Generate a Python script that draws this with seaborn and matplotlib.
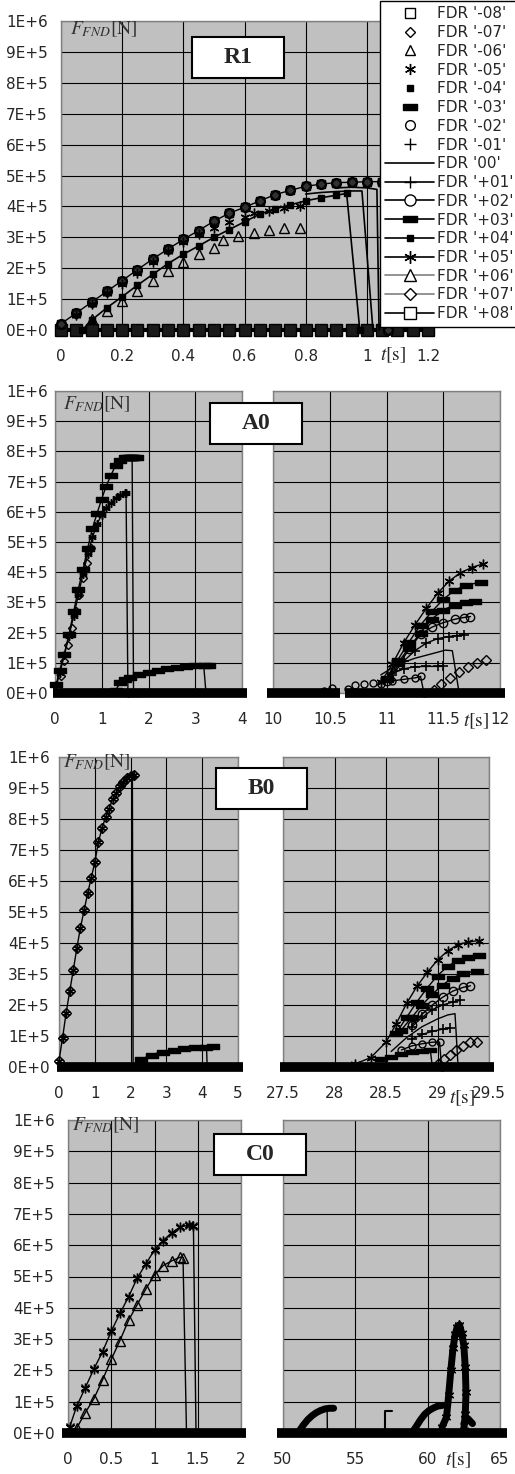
import matplotlib
matplotlib.use("Agg")
import matplotlib.pyplot as plt
import seaborn as sns
from matplotlib.lines import Line2D
from matplotlib.patches import Rectangle
from matplotlib.path import Path

# ---------------- data ----------------
f_ticks = [0, 1e5, 2e5, 3e5, 4e5, 5e5, 6e5, 7e5, 8e5, 9e5, 1e6]
f_labels = ['0E+0', '1E+5', '2E+5', '3E+5', '4E+5', '5E+5', '6E+5', '7E+5', '8E+5', '9E+5', '1E+6']

# R1
r1_ticks = [0, 0.2, 0.4, 0.6, 0.8, 1.0, 1.2]
r1_ticklabels = ['0', '0.2', '0.4', '0.6', '0.8', '1', '1.2']
r1_base_t = [0.0, 0.05, 0.1, 0.15, 0.2, 0.25, 0.3, 0.35, 0.4, 0.45, 0.5, 0.55, 0.6,
             0.65, 0.7, 0.75, 0.8, 0.85, 0.9, 0.95, 1.0, 1.05, 1.1, 1.15, 1.2]
r1_base_f = [0, 0, 0, 0, 0, 0, 0, 0, 0, 0, 0, 0, 0, 0, 0, 0, 0, 0, 0, 0, 0, 0, 0, 0, 0]
r1_up_t = [0.0, 0.05, 0.1, 0.15, 0.2, 0.25, 0.3, 0.35, 0.4, 0.45, 0.5, 0.55, 0.6, 0.65,
           0.7, 0.75, 0.8, 0.85, 0.9, 0.95, 1.0, 1.05, 1.07]
r1_up_f = [0.2e5, 0.55e5, 0.9e5, 1.25e5, 1.6e5, 1.95e5, 2.3e5, 2.62e5, 2.93e5, 3.22e5, 3.52e5,
           3.78e5, 3.97e5, 4.18e5, 4.38e5, 4.52e5, 4.65e5, 4.72e5, 4.77e5, 4.78e5, 4.8e5, 4.8e5, 0]
r1_lo_t = [0.07, 0.1, 0.15, 0.2, 0.25, 0.3, 0.35, 0.4, 0.45, 0.5, 0.55, 0.6, 0.65, 0.7,
           0.75, 0.8, 0.85, 0.9, 0.934, 0.977]
r1_lo_f = [0, 0.32e5, 0.72e5, 1.08e5, 1.45e5, 1.8e5, 2.15e5, 2.45e5, 2.72e5, 3.0e5, 3.25e5,
           3.5e5, 3.75e5, 3.92e5, 4.05e5, 4.18e5, 4.28e5, 4.36e5, 4.42e5, 0]
r1_mid_t = [0.8, 0.85, 0.9, 0.95, 0.984, 1.02]
r1_mid_f = [4.4e5, 4.45e5, 4.48e5, 4.5e5, 4.5e5, 0]
r1_end_t = [0.9, 0.95, 1.0, 1.033, 1.04]
r1_end_f = [4.6e5, 4.62e5, 4.6e5, 4.55e5, 0]
r1_tri_t = [0.1, 0.15, 0.2, 0.25, 0.3, 0.35, 0.4, 0.45, 0.5, 0.53, 0.58, 0.63, 0.68, 0.73, 0.78]
r1_tri_f = [0.35e5, 0.62e5, 0.95e5, 1.25e5, 1.6e5, 1.92e5, 2.2e5, 2.45e5, 2.65e5, 2.9e5,
            3.05e5, 3.15e5, 3.25e5, 3.3e5, 3.3e5]
r1_star_t = [0.05, 0.1, 0.15, 0.2, 0.25, 0.3, 0.35, 0.4, 0.45, 0.5, 0.55, 0.6, 0.63, 0.68, 0.73, 0.78]
r1_star_f = [0.5e5, 0.85e5, 1.2e5, 1.5e5, 1.85e5, 2.2e5, 2.55e5, 2.86e5, 3.1e5, 3.3e5, 3.5e5,
             3.65e5, 3.78e5, 3.85e5, 3.94e5, 4.0e5]

# A0
a0_lticks = [0, 1, 2, 3, 4]
a0_lticklabels = ['0', '1', '2', '3', '4']
a0_rticks = [10, 10.5, 11, 11.5, 12]
a0_rticklabels = ['10', '10.5', '11', '11.5', '12']
a0_base_t = [-0.05, 4.1]
a0_base_f = [0, 0]
a0r_base1_t = [9.95, 10.59]
a0r_base1_f = [0, 0]
a0r_base2_t = [10.63, 12.04]
a0r_base2_f = [0, 0]
a0_hi_t = [0.03, 0.1, 0.2, 0.3, 0.4, 0.5, 0.6, 0.7, 0.8, 0.9, 1.0, 1.1, 1.2, 1.3, 1.4,
           1.5, 1.6, 1.65, 1.68]
a0_hi_f = [0.3e5, 0.75e5, 1.3e5, 1.95e5, 2.7e5, 3.45e5, 4.1e5, 4.8e5, 5.45e5, 5.95e5, 6.43e5,
           6.87e5, 7.22e5, 7.55e5, 7.72e5, 7.8e5, 7.82e5, 7.8e5, 0]
a0_tail_t = [1.55, 1.6, 1.65, 1.7, 1.75]
a0_tail_f = [7.8e5, 7.82e5, 7.8e5, 7.8e5, 7.8e5]
a0_lo_t = [0.03, 0.1, 0.2, 0.3, 0.4, 0.5, 0.6, 0.7, 0.8, 0.9, 1.0, 1.1, 1.2, 1.3, 1.4,
           1.5, 1.52, 1.56]
a0_lo_f = [0.25e5, 0.65e5, 1.25e5, 1.9e5, 2.55e5, 3.25e5, 3.95e5, 4.6e5, 5.15e5, 5.6e5, 5.9e5,
           6.12e5, 6.3e5, 6.45e5, 6.55e5, 6.62e5, 6.62e5, 0]
a0_dia_t = [0.05, 0.12, 0.2, 0.28, 0.36, 0.44, 0.52, 0.6, 0.68, 0.76]
a0_dia_f = [0.15e5, 0.55e5, 1.05e5, 1.6e5, 2.15e5, 2.7e5, 3.25e5, 3.8e5, 4.3e5, 4.8e5]
a0_bump_t = [1.3, 1.4, 1.5, 1.6, 1.8, 2.0, 2.2, 2.4, 2.6, 2.8, 3.0, 3.2, 3.3]
a0_bump_f = [0.1e5, 0.35e5, 0.45e5, 0.53e5, 0.63e5, 0.71e5, 0.77e5, 0.82e5, 0.87e5, 0.9e5,
             0.92e5, 0.93e5, 0.93e5]
a0_bdrop_t = [3.18, 3.23]
a0_bdrop_f = [0.92e5, 0]
a0r_star_t = [10.95, 11.05, 11.15, 11.25, 11.35, 11.45, 11.55, 11.65, 11.75, 11.85]
a0r_star_f = [0.35e5, 0.95e5, 1.65e5, 2.25e5, 2.8e5, 3.3e5, 3.7e5, 3.98e5, 4.15e5, 4.28e5]
a0r_sq1_t = [11.0, 11.1, 11.2, 11.3, 11.4, 11.5, 11.6, 11.7, 11.83]
a0r_sq1_f = [0.5e5, 1.1e5, 1.7e5, 2.25e5, 2.7e5, 3.1e5, 3.4e5, 3.57e5, 3.67e5]
a0r_sq2_t = [11.0, 11.1, 11.2, 11.3, 11.4, 11.5, 11.6, 11.7, 11.78]
a0r_sq2_f = [0.45e5, 1.0e5, 1.5e5, 2.0e5, 2.45e5, 2.75e5, 2.92e5, 3.02e5, 3.05e5]
a0r_ci1_t = [11.0, 11.1, 11.2, 11.3, 11.4, 11.5, 11.6, 11.68, 11.74]
a0r_ci1_f = [0.4e5, 0.9e5, 1.45e5, 1.95e5, 2.18e5, 2.33e5, 2.44e5, 2.5e5, 2.53e5]
a0r_pl1_t = [11.05, 11.15, 11.25, 11.35, 11.45, 11.55, 11.62, 11.68]
a0r_pl1_f = [0.6e5, 1.05e5, 1.4e5, 1.65e5, 1.8e5, 1.87e5, 1.9e5, 1.92e5]
a0r_line_t = [10.95, 11.1, 11.25, 11.4, 11.52, 11.58, 11.64]
a0r_line_f = [0.6e5, 0.95e5, 1.15e5, 1.3e5, 1.42e5, 1.4e5, 0]
a0r_pl2_t = [11.05, 11.15, 11.25, 11.35, 11.45, 11.5]
a0r_pl2_f = [0.65e5, 0.8e5, 0.87e5, 0.88e5, 0.88e5, 0.88e5]
a0r_ci2_t = [10.95, 11.05, 11.15, 11.25, 11.3, 11.33]
a0r_ci2_f = [0.3e5, 0.4e5, 0.45e5, 0.5e5, 0.55e5, 0]
a0r_dia_t = [11.42, 11.48, 11.56, 11.64, 11.72, 11.8, 11.88]
a0r_dia_f = [0.1e5, 0.3e5, 0.5e5, 0.68e5, 0.85e5, 0.98e5, 1.1e5]
a0r_ci3_t = [10.45, 10.52, 10.66, 10.72, 10.8, 10.88]
a0r_ci3_f = [0.05e5, 0.15e5, 0.12e5, 0.25e5, 0.3e5, 0.32e5]

# B0
b0_lticks = [0, 1, 2, 3, 4, 5]
b0_lticklabels = ['0', '1', '2', '3', '4', '5']
b0_rticks = [27.5, 28, 28.5, 29, 29.5]
b0_rticklabels = ['27.5', '28', '28.5', '29', '29.5']
b0_base_t = [-0.05, 5.15]
b0_base_f = [0, 0]
b0r_base_t = [27.47, 29.55]
b0r_base_f = [0, 0]
b0_main_t = [0.0, 0.1, 0.2, 0.3, 0.4, 0.5, 0.6, 0.7, 0.8, 0.9, 1.0, 1.1, 1.2, 1.3, 1.4,
             1.5, 1.6, 1.7, 1.8, 1.9, 2.0, 2.1]
b0_main_f = [0.2e5, 0.95e5, 1.75e5, 2.45e5, 3.13e5, 3.85e5, 4.5e5, 5.05e5, 5.6e5, 6.1e5, 6.6e5,
             7.25e5, 7.7e5, 8.05e5, 8.33e5, 8.65e5, 8.85e5, 9.05e5, 9.2e5, 9.33e5, 9.4e5, 9.42e5]
b0_drop_t = [2.05, 2.07]
b0_drop_f = [9.35e5, 0]
b0_bump_t = [2.3, 2.6, 2.9, 3.2, 3.5, 3.8, 4.1, 4.3]
b0_bump_f = [0.25e5, 0.4e5, 0.5e5, 0.55e5, 0.6e5, 0.63e5, 0.66e5, 0.68e5]
b0_bdrop_t = [4.12, 4.14]
b0_bdrop_f = [0.65e5, 0]
b0r_star_t = [28.2, 28.35, 28.5, 28.6, 28.7, 28.8, 28.9, 29.0, 29.1, 29.2, 29.3, 29.4]
b0r_star_f = [0.1e5, 0.3e5, 0.8e5, 1.4e5, 2.05e5, 2.6e5, 3.05e5, 3.45e5, 3.75e5, 3.95e5, 4.03e5, 4.08e5]
b0r_sq1_t = [28.6, 28.7, 28.8, 28.9, 29.0, 29.1, 29.2, 29.3, 29.4]
b0r_sq1_f = [1.1e5, 1.6e5, 2.1e5, 2.55e5, 2.95e5, 3.25e5, 3.45e5, 3.55e5, 3.6e5]
b0r_sq2_t = [28.65, 28.75, 28.85, 28.95, 29.05, 29.15, 29.25, 29.38]
b0r_sq2_f = [1.2e5, 1.6e5, 2.0e5, 2.35e5, 2.65e5, 2.88e5, 3.02e5, 3.1e5]
b0r_ci1_t = [28.75, 28.85, 28.95, 29.05, 29.15, 29.25, 29.32]
b0r_ci1_f = [1.35e5, 1.7e5, 2.0e5, 2.25e5, 2.45e5, 2.57e5, 2.62e5]
b0r_pl1_t = [28.75, 28.85, 28.95, 29.05, 29.15, 29.22]
b0r_pl1_f = [1.3e5, 1.6e5, 1.85e5, 2.0e5, 2.1e5, 2.15e5]
b0r_line_t = [28.55, 28.7, 28.85, 29.0, 29.1, 29.17, 29.2]
b0r_line_f = [0.5e5, 0.95e5, 1.3e5, 1.55e5, 1.68e5, 1.72e5, 0]
b0r_pl2_t = [28.75, 28.85, 28.95, 29.05, 29.12]
b0r_pl2_f = [0.9e5, 1.05e5, 1.15e5, 1.22e5, 1.25e5]
b0r_ci2_t = [28.65, 28.75, 28.85, 28.95, 29.02, 29.04]
b0r_ci2_f = [0.55e5, 0.68e5, 0.75e5, 0.8e5, 0.8e5, 0]
b0r_sq3_t = [28.45, 28.55, 28.65, 28.75, 28.85, 28.93, 28.95]
b0r_sq3_f = [0.25e5, 0.33e5, 0.42e5, 0.48e5, 0.52e5, 0.55e5, 0]
b0r_dia_t = [29.0, 29.06, 29.12, 29.18, 29.25, 29.32, 29.38]
b0r_dia_f = [0.1e5, 0.25e5, 0.4e5, 0.55e5, 0.68e5, 0.8e5, 0.82e5]

# C0
c0_lticks = [0, 0.5, 1.0, 1.5, 2.0]
c0_lticklabels = ['0', '0.5', '1', '1.5', '2']
c0_rticks = [50, 55, 60, 65]
c0_rticklabels = ['50', '55', '60', '65']
c0_base_t = [-0.07, 2.06]
c0_base_f = [0, 0]
c0r_base_t = [49.6, 65.5]
c0r_base_f = [0, 0]
c0_hi_t = [0.02, 0.1, 0.2, 0.3, 0.4, 0.5, 0.6, 0.7, 0.8, 0.9, 1.0, 1.1, 1.2, 1.3, 1.4, 1.45]
c0_hi_f = [0.2e5, 0.85e5, 1.45e5, 2.05e5, 2.6e5, 3.25e5, 3.82e5, 4.35e5, 4.95e5, 5.4e5, 5.85e5,
           6.15e5, 6.4e5, 6.58e5, 6.65e5, 6.6e5]
c0_hdrop_t = [1.45, 1.48]
c0_hdrop_f = [6.6e5, 0]
c0_tri_t = [0.1, 0.2, 0.3, 0.4, 0.5, 0.6, 0.7, 0.8, 0.9, 1.0, 1.1, 1.2, 1.3, 1.33]
c0_tri_f = [0.15e5, 0.65e5, 1.1e5, 1.7e5, 2.35e5, 2.95e5, 3.6e5, 4.1e5, 4.6e5, 5.05e5, 5.35e5,
            5.5e5, 5.62e5, 5.6e5]
c0_tdrop_t = [1.33, 1.37]
c0_tdrop_f = [5.55e5, 0]
c0r_b1_t = [51.1, 51.4, 51.7, 52.0, 52.3, 52.6, 52.9, 53.2, 53.5]
c0r_b1_f = [0.05e5, 0.25e5, 0.42e5, 0.55e5, 0.65e5, 0.72e5, 0.77e5, 0.79e5, 0.79e5]
c0r_d1_t = [53.05, 53.07]
c0r_d1_f = [0.78e5, 0]
c0r_b2_t = [57.05, 57.05, 57.5]
c0r_b2_f = [0, 0.7e5, 0.7e5]
c0r_b3_t = [58.9, 59.2, 59.5, 59.8, 60.1, 60.4, 60.7, 61.0]
c0r_b3_f = [0, 0.2e5, 0.42e5, 0.6e5, 0.72e5, 0.8e5, 0.86e5, 0.88e5]
c0r_up_t = [61.0, 61.3, 61.45, 61.6, 61.75, 61.9, 62.05, 62.2]
c0r_up_f = [0.2e5, 0.5e5, 1.2e5, 2.0e5, 2.7e5, 3.15e5, 3.4e5, 3.45e5]
c0r_dn_t = [62.2, 62.35, 62.5, 62.6, 62.65, 62.6, 62.5]
c0r_dn_f = [3.45e5, 3.2e5, 2.8e5, 2.1e5, 1.3e5, 0.6e5, 0.1e5]
c0r_b4_t = [62.5, 62.8, 63.1]
c0r_b4_f = [0.3e5, 0.45e5, 0.3e5]

# ---------------- style ----------------
sns.set_style("white")
plt.rcParams['font.family'] = ['DejaVu Sans']
plt.rcParams['mathtext.fontset'] = 'stix'

W, H = 515, 1474
fig = plt.figure(figsize=(W / 100, H / 100), dpi=100)
GRAY = '#C0C0C0'
LGRAY = '#808080'
bar = Path([(-1, -0.4), (1, -0.4), (1, 0.4), (-1, 0.4), (-1, -0.4)],
           [Path.MOVETO, Path.LINETO, Path.LINETO, Path.LINETO, Path.CLOSEPOLY])
star6 = (6, 2, 0)


def px_axes(l, t, r, b):
    return fig.add_axes([l / W, 1 - b / H, (r - l) / W, (b - t) / H])


def draw(ax, t, f, marker=None, ms=5, ls='-', lw=1.0, color='k', mfc='none', mew=1.0):
    sns.lineplot(x=t, y=f, ax=ax, sort=False, estimator=None, color=color,
                 marker=marker, markersize=ms, markerfacecolor=mfc, markeredgecolor='k',
                 markeredgewidth=mew, linestyle=ls, linewidth=lw, clip_on=False, legend=False,
                 zorder=4)


def band(ax, t, f, lw=7):
    sns.lineplot(x=t, y=f, ax=ax, sort=False, estimator=None, color='k', linewidth=lw,
                 solid_capstyle='butt', clip_on=False, legend=False, zorder=5)


def setup(ax, xlim, ticks, labels, left=True, ypad=6):
    ax.set_facecolor(GRAY)
    ax.set_xlim(xlim)
    ax.set_ylim(0, 1e6)
    ax.set_xticks(ticks)
    ax.set_xticklabels(labels)
    ax.set_yticks(f_ticks)
    ax.set_yticklabels(f_labels if left else [])
    ax.grid(True, color='k', lw=0.8)
    ax.set_axisbelow(True)
    for s in ax.spines.values():
        s.set_color(LGRAY)
        s.set_linewidth(1)
        s.set_zorder(1)
    ax.tick_params(axis='x', length=3, color=LGRAY, labelsize=11, pad=11)
    ax.tick_params(axis='y', length=3 if left else 0, color=LGRAY, labelsize=11, pad=ypad)
    ax.set_xlabel('')
    ax.set_ylabel('')


def panel_box(x0, y0, x1, y1, label):
    fig.add_artist(Rectangle((x0 / W, 1 - y1 / H), (x1 - x0) / W, (y1 - y0) / H,
                             transform=fig.transFigure, fc='white', ec='k', lw=1.5, zorder=6))
    fig.text((x0 + x1) / 2 / W, 1 - (y0 + y1) / 2 / H, label, ha='center', va='center',
             family='Liberation Serif', fontweight='bold', fontsize=17, zorder=7)


def flabel(x, y):
    fig.text(x / W, 1 - y / H, r'$F_{FND}\mathrm{[N]}$', ha='left', va='center',
             fontsize=14, color='#303030', zorder=7)


def tlabel(x, y):
    fig.text(x / W, 1 - y / H, r'$t\mathrm{[s]}$', ha='center', va='center', fontsize=14, zorder=7)


# ---------------- R1 ----------------
ax = px_axes(61, 21, 428, 330)
draw(ax, r1_base_t, r1_base_f, marker='s', ms=8, lw=3, mfc='#1a1a1a')
draw(ax, r1_up_t, r1_up_f, marker='o', ms=7)
draw(ax, r1_up_t, r1_up_f, marker='s', ms=6, mfc='#303030', ls='none')
draw(ax, r1_up_t, r1_up_f, marker='D', ms=5, ls='none')
draw(ax, r1_lo_t, r1_lo_f, marker='s', ms=4.5, mfc='k', lw=1.2)
draw(ax, r1_mid_t, r1_mid_f, lw=1.2)
draw(ax, r1_end_t, r1_end_f, lw=1.2)
draw(ax, r1_tri_t, r1_tri_f, marker='^', ms=7, ls='none')
draw(ax, r1_star_t, r1_star_f, marker=star6, ms=7, ls='none')
setup(ax, (0, 1.2), r1_ticks, r1_ticklabels, ypad=6.5)
panel_box(192, 37, 284, 78, 'R1')
flabel(70, 29)
tlabel(393, 355)

# ---------------- A0 ----------------
ax = px_axes(55, 391, 242, 693)
band(ax, a0_base_t, a0_base_f)
draw(ax, a0_bump_t, a0_bump_f, marker=bar, ms=9, mfc='k')
draw(ax, a0_bdrop_t, a0_bdrop_f)
draw(ax, a0_hi_t, a0_hi_f, marker=bar, ms=9, mfc='k')
draw(ax, a0_tail_t, a0_tail_f, marker=bar, ms=9, mfc='k', ls='none')
draw(ax, a0_lo_t, a0_lo_f, marker=star6, ms=6)
draw(ax, a0_lo_t, a0_lo_f, marker='+', ms=6, ls='none')
draw(ax, a0_dia_t, a0_dia_f, marker='D', ms=4, ls='none')
setup(ax, (0, 4), a0_lticks, a0_lticklabels, ypad=2)

ax = px_axes(273, 391, 500, 693)
band(ax, a0r_base1_t, a0r_base1_f)
band(ax, a0r_base2_t, a0r_base2_f)
draw(ax, a0r_ci3_t, a0r_ci3_f, marker='o', ms=5, ls='none')
draw(ax, a0r_line_t, a0r_line_f)
draw(ax, a0r_ci2_t, a0r_ci2_f, marker='o', ms=5)
draw(ax, a0r_pl2_t, a0r_pl2_f, marker='+', ms=7, mew=1.2)
draw(ax, a0r_pl1_t, a0r_pl1_f, marker='+', ms=7, mew=1.2)
draw(ax, a0r_ci1_t, a0r_ci1_f, marker='o', ms=6)
draw(ax, a0r_sq2_t, a0r_sq2_f, marker=bar, ms=9, mfc='k')
draw(ax, a0r_sq1_t, a0r_sq1_f, marker=bar, ms=9, mfc='k')
draw(ax, a0r_star_t, a0r_star_f, marker=star6, ms=7)
draw(ax, a0r_dia_t, a0r_dia_f, marker='D', ms=5, ls='none')
setup(ax, (10, 12), a0_rticks, a0_rticklabels, left=False)
panel_box(210, 403, 302, 444, 'A0')
flabel(63, 404)
tlabel(476, 721)

# ---------------- B0 ----------------
ax = px_axes(59, 757, 238, 1067)
band(ax, b0_base_t, b0_base_f)
draw(ax, b0_bump_t, b0_bump_f, marker=bar, ms=9, mfc='k')
draw(ax, b0_bdrop_t, b0_bdrop_f)
draw(ax, b0_drop_t, b0_drop_f)
draw(ax, b0_main_t, b0_main_f, marker='D', ms=5)
draw(ax, b0_main_t, b0_main_f, marker=star6, ms=6, ls='none')
setup(ax, (0, 5), b0_lticks, b0_lticklabels, ypad=3.5)

ax = px_axes(283, 757, 489, 1067)
band(ax, b0r_base_t, b0r_base_f)
draw(ax, b0r_sq3_t, b0r_sq3_f, marker=bar, ms=8, mfc='k')
draw(ax, b0r_ci2_t, b0r_ci2_f, marker='o', ms=5)
draw(ax, b0r_line_t, b0r_line_f)
draw(ax, b0r_pl2_t, b0r_pl2_f, marker='+', ms=7, mew=1.2)
draw(ax, b0r_pl1_t, b0r_pl1_f, marker='+', ms=7, mew=1.2)
draw(ax, b0r_ci1_t, b0r_ci1_f, marker='o', ms=6)
draw(ax, b0r_sq2_t, b0r_sq2_f, marker=bar, ms=9, mfc='k')
draw(ax, b0r_sq1_t, b0r_sq1_f, marker=bar, ms=9, mfc='k')
draw(ax, b0r_star_t, b0r_star_f, marker=star6, ms=7)
draw(ax, b0r_dia_t, b0r_dia_f, marker='D', ms=5, ls='none')
setup(ax, (27.5, 29.5), b0_rticks, b0_rticklabels, left=False)
panel_box(216, 768, 307, 809, 'B0')
flabel(63, 762)
tlabel(462, 1098)

# ---------------- C0 ----------------
ax = px_axes(68, 1120, 241, 1433)
band(ax, c0_base_t, c0_base_f)
draw(ax, c0_tdrop_t, c0_tdrop_f)
draw(ax, c0_hdrop_t, c0_hdrop_f)
draw(ax, c0_tri_t, c0_tri_f, marker='^', ms=7)
draw(ax, c0_hi_t, c0_hi_f, marker=star6, ms=7)
draw(ax, c0_hi_t, c0_hi_f, marker='x', ms=6, ls='none')
setup(ax, (0, 2), c0_lticks, c0_lticklabels, ypad=6.5)

ax = px_axes(283, 1120, 500, 1433)
band(ax, c0r_base_t, c0r_base_f)
draw(ax, c0r_b1_t, c0r_b1_f, lw=5)
draw(ax, c0r_d1_t, c0r_d1_f)
draw(ax, c0r_b2_t, c0r_b2_f, lw=1.5)
draw(ax, c0r_b3_t, c0r_b3_f, lw=5)
draw(ax, c0r_up_t, c0r_up_f, marker=star6, ms=7, lw=5)
draw(ax, c0r_dn_t, c0r_dn_f, marker=star6, ms=7, lw=5)
draw(ax, c0r_b4_t, c0r_b4_f, lw=5)
setup(ax, (50, 65), c0_rticks, c0_rticklabels, left=False)
panel_box(214, 1134, 306, 1175, 'C0')
flabel(72, 1125)
tlabel(458, 1460)

# ---------------- legend ----------------
leg_names = ["FDR '-08'", "FDR '-07'", "FDR '-06'", "FDR '-05'", "FDR '-04'", "FDR '-03'",
             "FDR '-02'", "FDR '-01'", "FDR '00'", "FDR '+01'", "FDR '+02'", "FDR '+03'",
             "FDR '+04'", "FDR '+05'", "FDR '+06'", "FDR '+07'", "FDR '+08'"]
leg_markers = ['s', 'D', '^', star6, 's', bar, 'o', '+', None, '+', 'o', bar, 's', star6, '^', 'D', 's']
leg_sizes = [7, 5, 7, 8, 4.5, 10, 7, 8, 0, 9, 8, 10, 5, 9, 8, 6, 8]
leg_fill = ['none', 'none', 'none', 'none', 'k', 'k', 'none', 'none', 'none', 'none', 'none',
            'k', 'k', 'none', 'none', 'none', 'none']
leg_lines = ['none'] * 8 + ['-'] * 9
leg_colors = ['k'] * 14 + [LGRAY, LGRAY, 'k']

handles = []
for m, s, fc, ls, c in zip(leg_markers, leg_sizes, leg_fill, leg_lines, leg_colors):
    handles.append(Line2D([], [], marker=m, markersize=s, markerfacecolor=fc if fc != 'none' else 'white',
                          markeredgecolor='k', markeredgewidth=1, linestyle=ls, color=c, lw=1.2))
leg = fig.legend(handles, leg_names, loc='upper left', bbox_to_anchor=(380 / W, 1 - 1 / H),
                 fontsize=11, frameon=True, fancybox=False, edgecolor='k', framealpha=1,
                 borderaxespad=0, handlelength=3.2, handletextpad=0.2, labelspacing=0.245,
                 borderpad=0.35)
leg.get_frame().set_linewidth(1)
leg.set_zorder(10)

fig.savefig('out.png', dpi=100)
